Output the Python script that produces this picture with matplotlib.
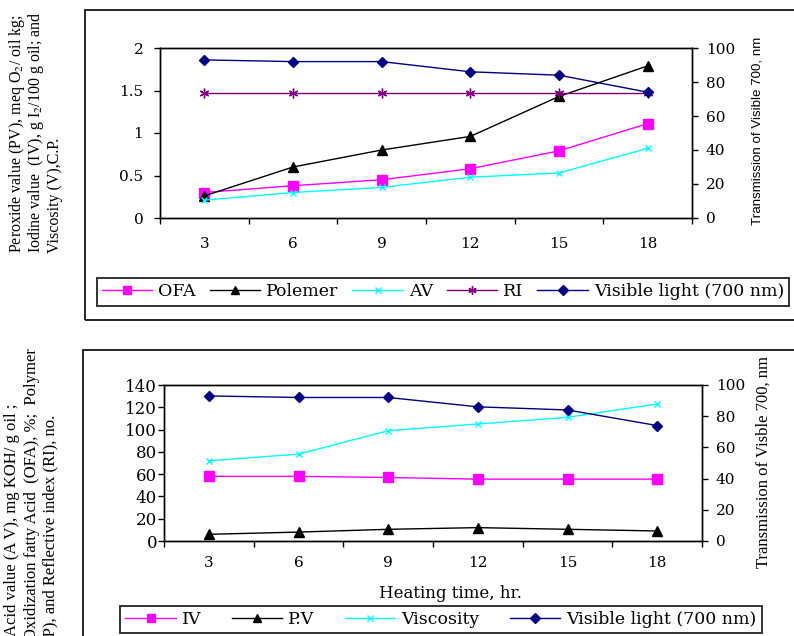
import matplotlib
matplotlib.use("Agg")
import matplotlib.pyplot as plt
from matplotlib.patches import Rectangle

plt.rcParams['font.family'] = 'DejaVu Serif'
plt.rcParams['mathtext.fontset'] = 'stix'

hours = ['3', '6', '9', '12', '15', '18']

# upper panel
ofa = [0.30, 0.38, 0.45, 0.58, 0.79, 1.11]
polemer = [0.26, 0.60, 0.80, 0.96, 1.43, 1.79]
av = [0.21, 0.30, 0.36, 0.48, 0.53, 0.82]
ri = [1.47, 1.47, 1.47, 1.47, 1.47, 1.47]
visible_top = [93, 92, 92, 86, 84, 74]

# lower panel
iv = [58, 58, 57, 55.5, 55.5, 55.5]
pv = [6, 8, 10.5, 12, 10.5, 9]
viscosity = [72, 78, 99, 105, 111, 123]
visible_bot = [93, 92, 92, 86, 84, 74]

W, H = 794, 636
fig = plt.figure(figsize=(W / 100, H / 100), dpi=100)


def box(l, t, r, b):
    return [l / W, 1 - b / H, (r - l) / W, (b - t) / H]


def frame(l, t, r, b):
    fig.patches.append(Rectangle((l / W, 1 - b / H), (r - l) / W, (b - t) / H,
                                 transform=fig.transFigure, fill=False,
                                 edgecolor='black', lw=1.2, clip_on=False))


def style_axes(ax, ax2, yticks, ylabels, lpad, xpad, lsize):
    x = list(range(len(hours)))
    ax.set_xlim(-0.5, len(hours) - 0.5)
    ax.set_xticks([i - 0.5 for i in range(len(hours) + 1)])
    ax.set_xticklabels([])
    ax.set_xticks(x, minor=True)
    ax.set_xticklabels(hours, minor=True)
    ax.tick_params(axis='x', which='major', direction='out', length=4, width=1)
    ax.tick_params(axis='x', which='minor', length=0, pad=xpad, labelsize=11)
    ax.set_yticks(yticks)
    ax.set_yticklabels(ylabels)
    ax.set_ylim(yticks[0], yticks[-1])
    ax.tick_params(axis='y', direction='out', length=4, width=1, pad=lpad, labelsize=lsize)
    ax2.set_ylim(0, 100)
    ax2.set_yticks([0, 20, 40, 60, 80, 100])
    ax2.tick_params(axis='y', direction='out', length=4, width=1, pad=6, labelsize=11)
    for a in (ax, ax2):
        for s in a.spines.values():
            s.set_linewidth(1.0)


def series(ax, vals, color, marker, ms, label):
    return ax.plot(range(len(vals)), vals, color=color, marker=marker, ms=ms,
                   lw=1.0, mec=color, mfc=color, label=label, clip_on=False)[0]


def legend(handles, cx, cy, ncol, colsp):
    lg = fig.legend(handles=handles, loc='center', bbox_to_anchor=(cx / W, 1 - cy / H),
                    ncol=ncol, fontsize=12.5, frameon=True, fancybox=False,
                    handlelength=2.9, handletextpad=0.35, columnspacing=colsp,
                    borderpad=0.3, markerscale=0.85)
    lg.get_frame().set_edgecolor('black')
    lg.get_frame().set_linewidth(1.4)
    return lg


# ---- top chart ----
frame(85, 10, 820, 320)
ax1 = fig.add_axes(box(160, 48, 692, 218))
ax1b = ax1.twinx()
h = [
    series(ax1, ofa, '#FF00FF', 's', 7, 'OFA'),
    series(ax1, polemer, 'black', '^', 7, 'Polemer'),
    series(ax1, av, '#00FFFF', 'x', 5, 'AV'),
    series(ax1, ri, '#800080', (6, 2, 0), 7, 'RI'),
    series(ax1b, visible_top, '#000080', 'D', 5.5, 'Visible light (700 nm)'),
]
style_axes(ax1, ax1b, [0, 0.5, 1, 1.5, 2], ['0', '0.5', '1', '1.5', '2'], 8, 14, 11)
legend(h, 443, 292, 5, 0.8)

top_lines = ['Peroxide value (PV), meq O$_2$/ oil kg;',
             'Iodine value  (IV), g I$_2$/100 g oil; and',
             'Viscosity (V),C.P.']
for xc, txt in zip([17.5, 36, 55], top_lines):
    fig.text(xc / W, 1 - 253 / H, txt, rotation=90, ha='center', va='bottom',
             family='Liberation Serif', fontsize=11.5)
fig.text(758 / W, 1 - 131 / H, 'Transmission of Visible 700, nm', rotation=90,
         ha='center', va='center', family='Liberation Sans', fontsize=9.6)

# ---- bottom chart ----
frame(83, 350, 820, 700)
ax2 = fig.add_axes(box(164, 385, 702, 541))
ax2b = ax2.twinx()
h2 = [
    series(ax2, iv, '#FF00FF', 's', 7, 'IV'),
    series(ax2, pv, 'black', '^', 7, 'P.V'),
    series(ax2, viscosity, '#00FFFF', 'x', 5, 'Viscosity'),
    series(ax2b, visible_bot, '#000080', 'D', 5.5, 'Visible light (700 nm)'),
]
style_axes(ax2, ax2b, list(range(0, 141, 20)), [str(v) for v in range(0, 141, 20)], 1, 11, 12)
fig.text(450 / W, 1 - 593 / H, 'Heating time, hr.', ha='center', va='center', fontsize=12)
legend(h2, 441, 619.5, 4, 1.75)

bot_lines = ['Acid value (A V), mg KOH/ g oil ;',
             'Oxidization fatty Acid  (OFA), %;  Polymer',
             '(P), and Reflective index (RI), no.']
for xc, yb, txt in zip([12, 32, 50], [636, 640, 642], bot_lines):
    fig.text(xc / W, 1 - yb / H, txt, rotation=90, ha='center', va='bottom',
             family='Liberation Serif', fontsize=12)
fig.text(764 / W, 1 - 462 / H, 'Transmission of Visble 700, nm', rotation=90,
         ha='center', va='center', family='Liberation Serif', fontsize=12)

fig.savefig('out.png', dpi=100)
